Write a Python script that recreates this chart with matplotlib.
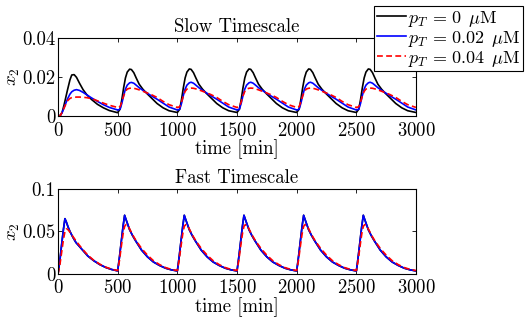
import numpy as np
import matplotlib
matplotlib.use('Agg')
import matplotlib.pyplot as plt

plt.rcParams['font.family'] = 'serif'
plt.rcParams['font.serif'] = ['cmr10']
plt.rcParams['mathtext.fontset'] = 'cm'
plt.rcParams['axes.unicode_minus'] = False
plt.rcParams['axes.formatter.use_mathtext'] = True

# pulse starts (min) and sample offsets within each 500-min period
period_starts = [0, 500, 1000, 1500, 2000, 2500]
slow_offsets = [0, 20, 35, 50, 65, 80, 100, 115, 135, 155, 180, 210, 240, 280, 330, 380, 430, 499]
fast_offsets = [0, 15, 30, 45, 58, 70, 85, 100, 125, 150, 200, 250, 300, 350, 400, 450, 499]

# slow timescale, one row per period
slow_black = [
    [0.0, 0.0003, 0.002, 0.0055, 0.0095, 0.0135, 0.0185, 0.0210, 0.0212, 0.0198, 0.0168, 0.0135, 0.0110, 0.0085, 0.0060, 0.0042, 0.0028, 0.0017],
    [0.0017, 0.0035, 0.0085, 0.0145, 0.0195, 0.0225, 0.0240, 0.0238, 0.0222, 0.0195, 0.0163, 0.0138, 0.0118, 0.0094, 0.0064, 0.0042, 0.0027, 0.0018],
    [0.0018, 0.0035, 0.0085, 0.0145, 0.0195, 0.0225, 0.0241, 0.0239, 0.0222, 0.0195, 0.0163, 0.0138, 0.0118, 0.0094, 0.0064, 0.0042, 0.0027, 0.0018],
    [0.0018, 0.0035, 0.0085, 0.0145, 0.0195, 0.0225, 0.0241, 0.0239, 0.0222, 0.0195, 0.0163, 0.0138, 0.0118, 0.0094, 0.0064, 0.0042, 0.0027, 0.0018],
    [0.0018, 0.0035, 0.0085, 0.0145, 0.0195, 0.0225, 0.0241, 0.0239, 0.0222, 0.0195, 0.0163, 0.0138, 0.0118, 0.0094, 0.0064, 0.0042, 0.0027, 0.0018],
    [0.0018, 0.0035, 0.0085, 0.0145, 0.0195, 0.0225, 0.0241, 0.0239, 0.0222, 0.0195, 0.0163, 0.0138, 0.0118, 0.0094, 0.0064, 0.0042, 0.0027, 0.0018],
]
slow_blue = [
    [0.0, 0.0003, 0.0018, 0.0042, 0.0065, 0.0088, 0.0112, 0.0124, 0.0132, 0.0135, 0.0131, 0.0121, 0.0109, 0.0093, 0.0075, 0.0058, 0.0044, 0.0031],
    [0.0030, 0.0035, 0.0065, 0.0105, 0.0138, 0.0158, 0.0170, 0.0172, 0.0168, 0.0158, 0.0145, 0.0132, 0.0120, 0.0104, 0.0086, 0.0066, 0.0046, 0.0031],
    [0.0030, 0.0035, 0.0065, 0.0105, 0.0138, 0.0158, 0.0170, 0.0173, 0.0168, 0.0158, 0.0145, 0.0132, 0.0120, 0.0104, 0.0086, 0.0066, 0.0046, 0.0031],
    [0.0030, 0.0035, 0.0065, 0.0105, 0.0138, 0.0158, 0.0170, 0.0173, 0.0168, 0.0158, 0.0145, 0.0132, 0.0120, 0.0104, 0.0086, 0.0066, 0.0046, 0.0031],
    [0.0030, 0.0035, 0.0065, 0.0105, 0.0138, 0.0158, 0.0170, 0.0173, 0.0168, 0.0158, 0.0145, 0.0132, 0.0120, 0.0104, 0.0086, 0.0066, 0.0046, 0.0031],
    [0.0030, 0.0035, 0.0065, 0.0105, 0.0138, 0.0158, 0.0170, 0.0173, 0.0168, 0.0158, 0.0145, 0.0132, 0.0120, 0.0104, 0.0086, 0.0066, 0.0046, 0.0031],
]
slow_red = [
    [0.0, 0.0003, 0.0020, 0.0040, 0.0060, 0.0078, 0.0090, 0.0094, 0.0096, 0.0097, 0.0097, 0.0096, 0.0094, 0.0089, 0.0078, 0.0066, 0.0055, 0.0044],
    [0.0042, 0.0048, 0.0072, 0.0103, 0.0126, 0.0138, 0.0142, 0.0143, 0.0142, 0.0139, 0.0134, 0.0127, 0.0120, 0.0110, 0.0095, 0.0075, 0.0058, 0.0044],
    [0.0043, 0.0048, 0.0072, 0.0103, 0.0126, 0.0138, 0.0142, 0.0143, 0.0142, 0.0139, 0.0134, 0.0127, 0.0120, 0.0110, 0.0095, 0.0075, 0.0058, 0.0044],
    [0.0043, 0.0048, 0.0072, 0.0103, 0.0126, 0.0138, 0.0142, 0.0143, 0.0142, 0.0139, 0.0134, 0.0127, 0.0120, 0.0110, 0.0095, 0.0075, 0.0058, 0.0044],
    [0.0043, 0.0048, 0.0072, 0.0103, 0.0126, 0.0138, 0.0142, 0.0143, 0.0142, 0.0139, 0.0134, 0.0127, 0.0120, 0.0110, 0.0095, 0.0075, 0.0058, 0.0044],
    [0.0043, 0.0048, 0.0072, 0.0103, 0.0126, 0.0138, 0.0142, 0.0143, 0.0142, 0.0139, 0.0134, 0.0127, 0.0120, 0.0110, 0.0095, 0.0075, 0.0058, 0.0044],
]

# fast timescale (black lies under blue)
fast_blue = [
    [0.0, 0.015, 0.034, 0.052, 0.065, 0.061, 0.055, 0.050, 0.043, 0.037, 0.029, 0.021, 0.0155, 0.011, 0.0076, 0.0052, 0.0036],
    [0.0035, 0.020, 0.038, 0.056, 0.069, 0.064, 0.058, 0.052, 0.045, 0.039, 0.028, 0.020, 0.014, 0.010, 0.0068, 0.0048, 0.0035],
    [0.0035, 0.020, 0.038, 0.056, 0.069, 0.064, 0.058, 0.052, 0.045, 0.039, 0.028, 0.020, 0.014, 0.010, 0.0068, 0.0048, 0.0035],
    [0.0035, 0.020, 0.038, 0.056, 0.069, 0.064, 0.058, 0.052, 0.045, 0.039, 0.028, 0.020, 0.014, 0.010, 0.0068, 0.0048, 0.0035],
    [0.0035, 0.020, 0.038, 0.056, 0.069, 0.064, 0.058, 0.052, 0.045, 0.039, 0.028, 0.020, 0.014, 0.010, 0.0068, 0.0048, 0.0035],
    [0.0035, 0.020, 0.038, 0.056, 0.069, 0.064, 0.058, 0.052, 0.045, 0.039, 0.028, 0.020, 0.014, 0.010, 0.0068, 0.0048, 0.0035],
]
fast_black = fast_blue
fast_red = [
    [0.0, 0.010, 0.025, 0.040, 0.050, 0.053, 0.052, 0.049, 0.044, 0.039, 0.030, 0.022, 0.016, 0.0115, 0.008, 0.0055, 0.004],
    [0.004, 0.016, 0.032, 0.047, 0.056, 0.058, 0.057, 0.053, 0.046, 0.040, 0.030, 0.022, 0.0155, 0.011, 0.0075, 0.0053, 0.004],
    [0.004, 0.016, 0.032, 0.047, 0.056, 0.058, 0.057, 0.053, 0.046, 0.040, 0.030, 0.022, 0.0155, 0.011, 0.0075, 0.0053, 0.004],
    [0.004, 0.016, 0.032, 0.047, 0.056, 0.058, 0.057, 0.053, 0.046, 0.040, 0.030, 0.022, 0.0155, 0.011, 0.0075, 0.0053, 0.004],
    [0.004, 0.016, 0.032, 0.047, 0.056, 0.058, 0.057, 0.053, 0.046, 0.040, 0.030, 0.022, 0.0155, 0.011, 0.0075, 0.0053, 0.004],
    [0.004, 0.016, 0.032, 0.047, 0.056, 0.058, 0.057, 0.053, 0.046, 0.040, 0.030, 0.022, 0.0155, 0.011, 0.0075, 0.0053, 0.004],
]

labels = [r'$p_T\,=\,0\ \,\mu\mathrm{M}$', r'$p_T\,=\,0.02\ \,\mu\mathrm{M}$', r'$p_T\,=\,0.04\ \,\mu\mathrm{M}$']
x_ticks = [0, 500, 1000, 1500, 2000, 2500, 3000]


def times(offsets):
    return np.concatenate([np.array(offsets) + s for s in period_starts])


def style_axes(ax, yticks, ylim, title):
    ax.set_xlim(0, 3000)
    ax.set_ylim(*ylim)
    ax.set_xticks(x_ticks)
    ax.set_yticks(yticks)
    ax.set_yticklabels([('%g' % v) for v in yticks])
    ax.tick_params(direction='in', top=True, right=True, length=3, width=0.6, labelsize=13.5)
    ax.tick_params(axis='x', pad=4)
    ax.tick_params(axis='y', pad=2)
    for sp in ax.spines.values():
        sp.set_linewidth(0.8)
    ax.set_title(title, fontsize=13.5, pad=4)
    ax.set_xlabel('time [min]', fontsize=13.5, labelpad=0)
    ax.set_ylabel(r'$x_2$', fontsize=13.5, labelpad=0)


fig = plt.figure(figsize=(5.25, 3.2), dpi=100)
ax1 = fig.add_axes([0.1105, 0.6375, 0.682, 0.244])
ax2 = fig.add_axes([0.1105, 0.144, 0.682, 0.2656])

ts = times(slow_offsets)
tf = times(fast_offsets)
lw = 1.2

h1, = ax1.plot(ts, np.ravel(slow_black), color='k', lw=lw)
h2, = ax1.plot(ts, np.ravel(slow_blue), color='#0000ff', lw=lw)
h3, = ax1.plot(ts, np.ravel(slow_red), color='#ff0000', lw=lw, dashes=(3.5, 2))

ax2.plot(tf, np.ravel(fast_black), color='k', lw=lw)
ax2.plot(tf, np.ravel(fast_blue), color='#0000ff', lw=lw)
ax2.plot(tf, np.ravel(fast_red), color='#ff0000', lw=lw, dashes=(3.5, 2))

style_axes(ax1, [0, 0.02, 0.04], (0, 0.04), 'Slow Timescale')
style_axes(ax2, [0, 0.05, 0.1], (0, 0.1), 'Fast Timescale')

leg = fig.legend([h1, h2, h3], labels, loc='upper right',
                 bbox_to_anchor=(523 / 525, 1 - 6 / 320), fontsize=13,
                 handlelength=1.6, handletextpad=0.1, borderpad=0.15,
                 labelspacing=0.0, borderaxespad=0, fancybox=False,
                 framealpha=1, edgecolor='k')
leg.get_frame().set_linewidth(0.8)

fig.savefig('out.png', dpi=100)
